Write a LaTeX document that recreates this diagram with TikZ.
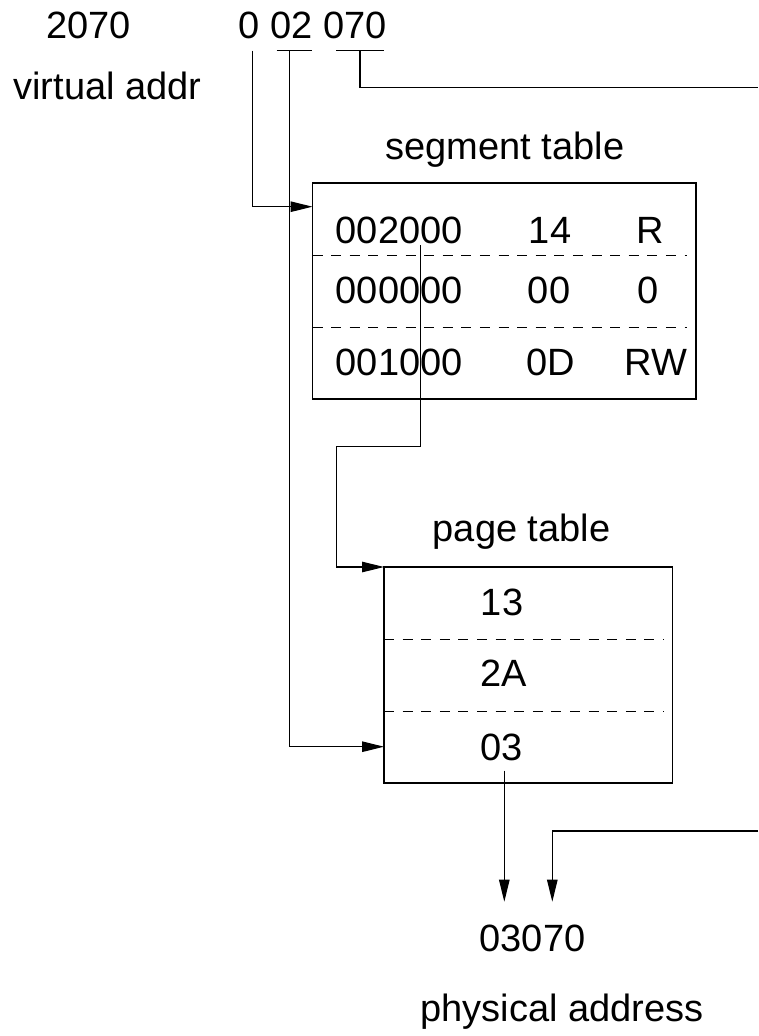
\documentclass[tikz,border=0pt]{standalone}
\usepackage{fontspec}
\setmainfont{Liberation Sans}
\usetikzlibrary{arrows.meta,calc}
\begin{document}
\begin{tikzpicture}[x=1pt,y=-1pt,
  every node/.style={inner sep=0pt, outer sep=0pt},
  lbl/.style={font=\fontsize{38}{45}\selectfont, anchor=base},
  tablebox/.style={draw, line width=1.1pt},
  rowsep/.style={line width=1pt, dash pattern=on 10pt off 8.6pt},
  wire/.style={line width=1.1pt},
  conn/.style={wire, -{Triangle[length=22pt,width=10.5pt]}}]
\useasboundingbox (0,0) rectangle (758,1036);

% virtual address and its fields
\node[lbl] (t2070) at (88.5,38.5) {2070};
\node[lbl] (vaddr) at (312.6,38.5) {0 02 070};
\node[lbl] (tvirt) at (107.5,99.5) {virtual addr};

\coordinate (u0)   at (252.7,50.7);
\coordinate (u02a) at (276.7,50.7);
\coordinate (u02b) at (311.7,50.7);
\coordinate (u02)  at (289.3,50.7);
\coordinate (u70a) at (336,50.7);
\coordinate (u70b) at (384,50.7);
\coordinate (u070) at (360,50.7);
\draw[wire] (u02a) -- (u02b);
\draw[wire] (u70a) -- (u70b);

% segment table
\node[lbl] (tseg) at (505,159) {segment table};
\node[tablebox, minimum width=383.5pt, minimum height=216pt] (seg) at (504.25,291) {};
\draw[rowsep] ($(seg.north west)+(0,72)$) -- ($(seg.north east)+(-9,72)$);
\draw[rowsep] ($(seg.north west)+(0,144)$) -- ($(seg.north east)+(-9,144)$);
\node[lbl] (s11) at (399.2,243.3) {002000};
\node[lbl] (s12) at (550,243.3) {14};
\node[lbl] (s13) at (650,243.3) {R};
\node[lbl] (s21) at (399.2,303.3) {000000};
\node[lbl] (s22) at (549,303.3) {00};
\node[lbl] (s23) at (648,303.3) {0};
\node[lbl] (s31) at (399.2,375) {001000};
\node[lbl] (s32) at (551,375) {0D};
\node[lbl] (s33) at (656,375) {RW};

% page table
\node[lbl] (tpage) at (521.5,541.5) {page table};
\node[tablebox, minimum width=288.3pt, minimum height=216pt] (pg) at (528.15,675) {};
\draw[rowsep] ($(pg.north west)+(0,72)$) -- ($(pg.north east)+(-9,72)$);
\draw[rowsep] ($(pg.north west)+(0,144)$) -- ($(pg.north east)+(-9,144)$);
\node[lbl] (p1) at (502,615) {13};
\node[lbl] (p2) at (503.5,686.7) {2A};
\node[lbl] (p3) at (501.5,760) {03};

% physical address
\node[lbl] (pa) at (532.5,951.7) {03070};
\node[lbl] (tphys) at (562,1021.5) {physical address};

% connectors
\coordinate (segptr) at (420.5,245);
\coordinate (bend1)  at (336.7,446.7);
\coordinate (p3ptr)  at (504.3,770.7);
\coordinate (inA)    at (504.3,901.7);
\coordinate (inB)    at (552.3,901.7);
\coordinate (offR1)  at (758,87.3);
\coordinate (offR2)  at (758,831);

\draw[conn] (u0) |- ($(seg.north west)+(0,23.7)$);
\draw[conn] (u02) |- ($(pg.north west)+(0,179.7)$);
\draw[wire] (u070) |- (offR1);
\draw[conn] (segptr) |- (bend1) |- (pg.north west);
\draw[conn] (p3ptr) -- (inA);
\draw[conn] (offR2) -| (inB);
\end{tikzpicture}
\end{document}
